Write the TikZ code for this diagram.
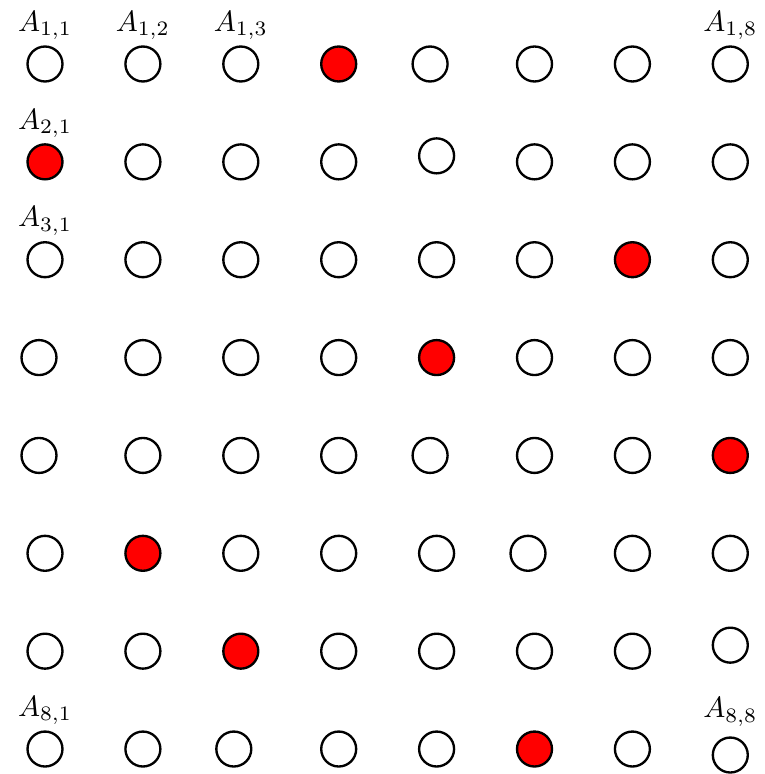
\documentclass[tikz,border=0pt]{standalone}
\usetikzlibrary{positioning}
\begin{document}
\begin{tikzpicture}[x=0.34031pt,y=-0.34031pt,
  dot/.style={circle,draw=black,thick,minimum size=11.9pt,inner sep=0pt},
  lab/.style={inner sep=0.3333em}]
\useasboundingbox (0,0) rectangle (764,774);
\foreach \i in {1,...,8} {
  \foreach \j in {1,...,8} {
    \pgfmathtruncatemacro\q{{4,1,7,5,8,2,3,6}[\i-1]}
    \ifnum\q=\j \def\fc{red}\else\def\fc{white}\fi
    \pgfmathsetmacro\dx{-6.5*(\i==1)*(\j==5)-6*(\i==4)*(\j==1)-6*(\i==5)*(\j==1)-6.5*(\i==5)*(\j==5)-6.5*(\i==6)*(\j==6)-7*(\i==8)*(\j==3)}
    \pgfmathsetmacro\dy{-6*(\i==2)*(\j==5)-6*(\i==7)*(\j==8)+6*(\i==8)*(\j==8)}
    \node[dot,fill=\fc] (n\i\j) at ({45+97.9*(\j-1)+\dx},{64+97.86*(\i-1)+\dy}) {};
  }
}
\foreach \i/\j in {1/1,1/2,1/3,1/8,2/1,3/1,8/1}
  \node[lab,above=-1.6pt of n\i\j] (l\i\j) {$A_{\i,\j}$};
\node[lab,above=-0.1pt of n88] (l88) {$A_{8,8}$};
\end{tikzpicture}
\end{document}
